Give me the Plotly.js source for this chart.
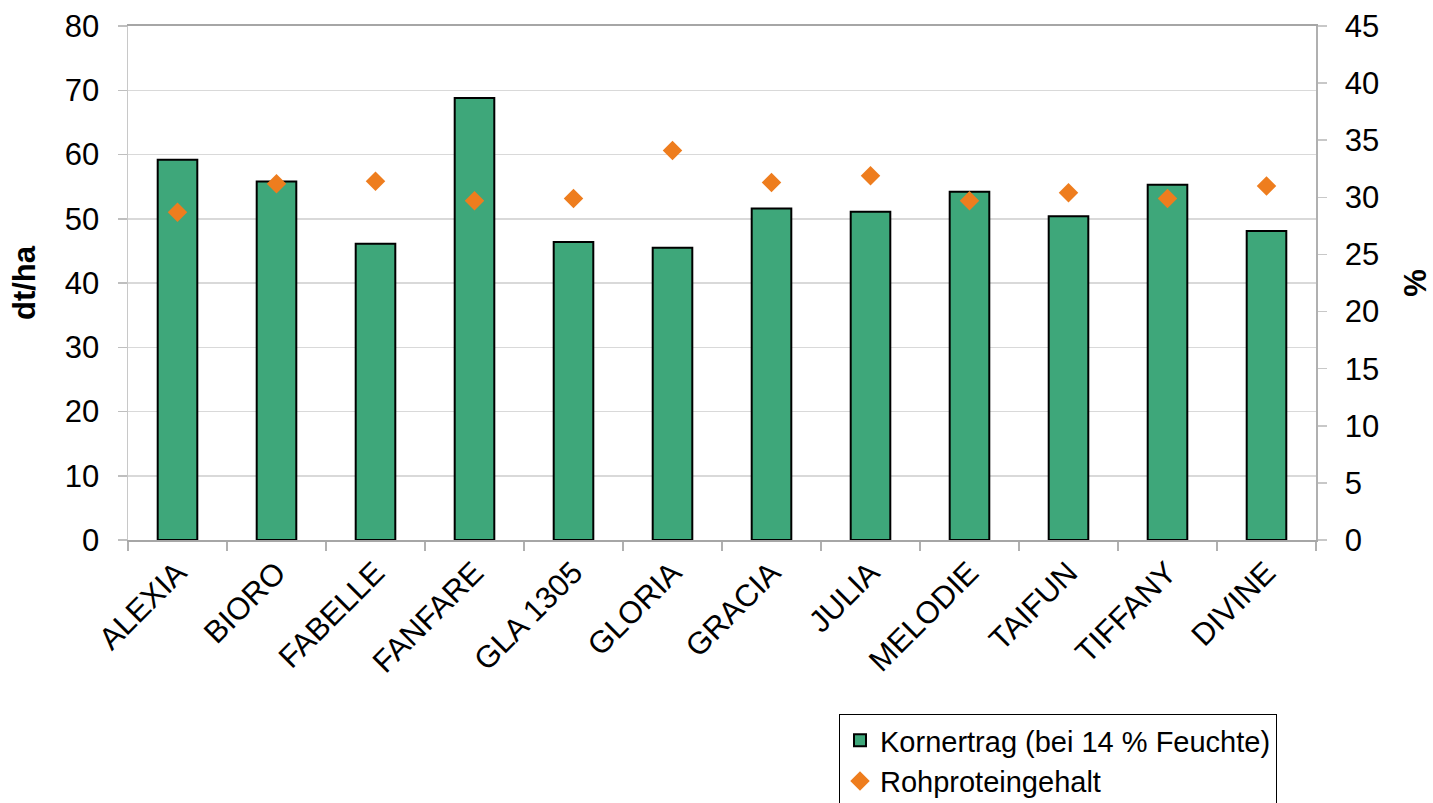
<!DOCTYPE html>
<html>
<head>
<meta charset="utf-8">
<script src="https://cdn.plot.ly/plotly-3.0.1.min.js"></script>
<style>html,body{margin:0;padding:0;background:#fff;}#chart{width:1433px;height:803px;}</style>
</head>
<body>
<div id="chart"></div>
<script>
const categories = ["ALEXIA","BIORO","FABELLE","FANFARE","GLA 1305","GLORIA","GRACIA","JULIA","MELODIE","TAIFUN","TIFFANY","DIVINE"];
const kornertrag = [59.2, 55.8, 46.1, 68.8, 46.4, 45.5, 51.6, 51.1, 54.2, 50.4, 55.3, 48.1];
const rohprotein = [28.7, 31.2, 31.4, 29.7, 29.9, 34.1, 31.3, 31.9, 29.7, 30.4, 29.9, 31.0];
const leftTicks = [0,10,20,30,40,50,60,70,80];
const rightTicks = [0,5,10,15,20,25,30,35,40,45];

const FONT = "Liberation Sans, Arial, sans-serif";

const traces = [
  {
    type: "bar", x: categories, y: kornertrag, name: "Kornertrag (bei 14 % Feuchte)",
    marker: {color: "#3EA77A", line: {color: "#000000", width: 2}},
    width: 0.4, yaxis: "y"
  },
  {
    type: "scatter", mode: "markers", x: categories, y: rohprotein, name: "Rohproteingehalt",
    marker: {symbol: "diamond", size: 15, color: "#EE7D1E"},
    yaxis: "y2"
  }
];

const layout = {
  width: 1433, height: 803,
  margin: {l: 128, r: 117, t: 26, b: 263, autoexpand: false},
  paper_bgcolor: "#ffffff", plot_bgcolor: "#ffffff",
  font: {family: FONT, size: 31, color: "#000"},
  showlegend: true,
  bargap: 0.6,
  xaxis: {
    type: "category", range: [-0.5, 11.5], autorange: false,
    tickangle: -45, tickson: "boundaries",
    ticks: "outside", ticklen: 9, tickcolor: "#b0b0b0", tickwidth: 1.5,
    showline: true, linecolor: "#a6a6a6", linewidth: 2, mirror: true,
    showgrid: false, automargin: false, tickfont: {size: 31, family: FONT}
  },
  yaxis: {
    range: [0, 80], tickvals: leftTicks, ticks: "outside", ticklen: 9,
    tickcolor: "#bfbfbf", tickwidth: 1.5,
    showline: true, linecolor: "#c8c8c8", linewidth: 1.5,
    showgrid: true, gridcolor: "#d9d9d9", gridwidth: 1.5, zeroline: false,
    automargin: false, ticklabelstandoff: 12,
    tickfont: {size: 31, family: FONT},
    title: {text: "<b>dt/ha</b>", font: {size: 31, family: FONT}, standoff: 20}
  },
  yaxis2: {
    range: [0, 45], tickvals: rightTicks, overlaying: "y", side: "right",
    ticks: "outside", ticklen: 9, tickcolor: "#c8c8c8", tickwidth: 1.5,
    showline: true, linecolor: "#b0b0b0", linewidth: 1.5,
    showgrid: false, zeroline: false, automargin: false, ticklabelstandoff: 12,
    tickfont: {size: 31, family: FONT},
    title: {text: "<b>%</b>", font: {size: 31, family: FONT}, standoff: 38}
  },
  legend: {
    x: (839 - 128) / 1188, y: -(714 - 540) / 514, xanchor: "left", yanchor: "top",
    bordercolor: "#000000", borderwidth: 1, bgcolor: "#ffffff",
    font: {size: 29, family: FONT}, tracegroupgap: 0, itemwidth: 30
  }
};

Plotly.newPlot("chart", traces, layout, {displayModeBar: false, staticPlot: true});
</script>
</body>
</html>
